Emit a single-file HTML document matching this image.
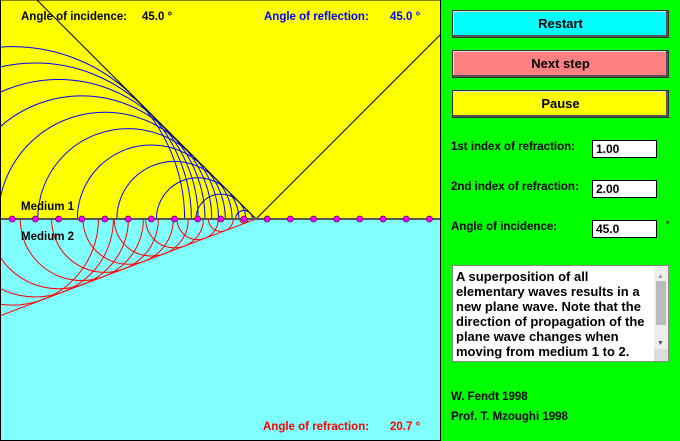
<!DOCTYPE html>
<html><head><meta charset="utf-8"><style>
body{margin:0;width:680px;height:441px;overflow:hidden;font-family:"Liberation Sans",sans-serif;font-weight:bold}
#panel{position:absolute;left:441px;top:0;width:239px;height:441px;background:#00ff00}
.btn{position:absolute;left:11px;width:215px;height:26px;border:1px solid #333;box-shadow:inset -2px -2px 0 #555,inset 1px 1px 0 #ddd;font-size:13px;text-align:center;line-height:26px}
.lbl{position:absolute;left:10px;font-size:11.5px}
.inp{position:absolute;left:151px;font-size:12px;line-height:16px;padding-left:3px;box-sizing:border-box;width:65px;height:18px;background:#fff;border:1px solid #000}
#ta{position:absolute;left:11px;top:265px;width:217px;height:97px;background:#fff;border:1px solid #888;box-sizing:border-box;font-size:13px;line-height:15px;padding:3px 0 0 3px;overflow:hidden}
#tt{width:200px}
</style></head><body>
<svg id="c" width="441" height="441" style="position:absolute;left:0;top:0"></svg>
<div id="panel">
<div class="btn" style="top:10px;background:#00ffff">Restart</div>
<div class="btn" style="top:50px;background:#ff8080">Next step</div>
<div class="btn" style="top:90px;background:#ffff00">Pause</div>
<div class="lbl" style="top:141px">1st index of refraction:</div>
<div class="inp" style="top:140px">1.00</div>
<div class="lbl" style="top:181px">2nd index of refraction:</div>
<div class="inp" style="top:180px">2.00</div>
<div class="lbl" style="top:221px">Angle of incidence:</div>
<div class="inp" style="top:220px">45.0</div>
<div class="lbl" style="top:219px;left:225px;font-size:9px">°</div>
<div id="ta"><div id="tt">A superposition of all elementary waves results in a new plane wave. Note that the direction of propagation of the plane wave changes when moving from medium 1 to 2.</div>
<div style="position:absolute;right:0;top:0;width:14px;height:83px;background:#eee"><div style="position:absolute;left:2px;top:15px;width:10px;height:44px;background:#bbb"></div><div style="position:absolute;left:3px;top:3px;font-size:7px;color:#999">▲</div><div style="position:absolute;left:3px;top:70px;font-size:7px;color:#555">▼</div></div><div style="position:absolute;right:0;bottom:0;width:14px;height:12px;background:#ddd"></div></div>
<div class="lbl" style="top:391px">W. Fendt 1998</div>
<div class="lbl" style="top:411px">Prof. T. Mzoughi 1998</div>
</div>
<script>
const n1 = 1.0;
const n2 = 2.0;
const incidenceDeg = [45.0];
const sourceIndex = [0,1,2,3,4,5,6,7,8,9,10,11,12,13,14,15,16,17,18];
const frontX = [256];
const ns="http://www.w3.org/2000/svg";
const svg=document.getElementById('c');
const Y0=219, X0=12.3, DX=23.17;
const xs=i=>X0+i*DX;
function mk(t,a){const e=document.createElementNS(ns,t);for(const k in a)e.setAttribute(k,a[k]);svg.appendChild(e);return e;}
const a1=incidenceDeg[0]*Math.PI/180;
const a2=Math.asin(Math.sin(a1)*n1/n2);
const F=frontX[0];
let e;
e=mk('rect',{x:0,y:0,width:441,height:Y0,fill:'#ffff00'});


e=mk('rect',{x:0,y:Y0,width:441,height:441-Y0,fill:'#80ffff'});


mk('defs',{}).innerHTML='<clipPath id="up"><rect x="0" y="0" width="440" height="'+Y0+'"/></clipPath><clipPath id="dn"><rect x="0" y="'+Y0+'" width="440" height="'+(441-Y0)+'"/></clipPath>';
sourceIndex.forEach(i=>{const x=xs(i);if(x>=F)return;const r=(F-x)*Math.sin(a1);
 e=mk('circle',{cx:x,cy:Y0,r:r,fill:'none',stroke:'#0000ff','stroke-width':1,'clip-path':'url(#up)'});
 
 
 e=mk('circle',{cx:x,cy:Y0,r:r*n1/n2,fill:'none',stroke:'#ff0000','stroke-width':1,'clip-path':'url(#dn)'});
 
 
});
e=mk('line',{x1:F,y1:Y0,x2:F-Y0/Math.tan(a1),y2:0,stroke:'#000','stroke-width':1});


e=mk('line',{x1:F,y1:Y0,x2:440,y2:Y0-(440-F)*Math.tan(a1),stroke:'#000','stroke-width':1});


e=mk('line',{x1:F,y1:Y0,x2:0,y2:Y0+F*Math.tan(a2),stroke:'#ff0000','stroke-width':1});


e=mk('line',{x1:0,y1:Y0,x2:440,y2:Y0,stroke:'#555','stroke-width':2});


sourceIndex.forEach(i=>{e=mk('circle',{cx:xs(i),cy:Y0,r:3,fill:'#ff00ff',stroke:'#600060','stroke-width':0.8});
 
 });
function txt(s,x,y,c,n){e=mk('text',{x:x,y:y,fill:c,'font-size':11.5,'font-weight':'bold','font-family':'Liberation Sans, sans-serif'});e.textContent=s;
 
 }
txt('Angle of incidence:',21,20,'#000','incidence-label');
txt(incidenceDeg[0].toFixed(1)+' °',142,20,'#000','incidence-value');
txt('Angle of reflection:',264,20,'#0000ff','reflection-label');
txt(incidenceDeg[0].toFixed(1)+' °',390,20,'#0000ff','reflection-value');
txt('Angle of refraction:',263,430,'#ff0000','refraction-label');
txt((a2*180/Math.PI).toFixed(1)+' °',390,430,'#ff0000','refraction-value');
txt('Medium 1',21,210,'#000','medium-1-label');
txt('Medium 2',21,240,'#000','medium-2-label');
e=mk('rect',{x:0.5,y:0,width:440,height:440.5,fill:'none',stroke:'#000','stroke-width':1});


</script>
</body></html>
